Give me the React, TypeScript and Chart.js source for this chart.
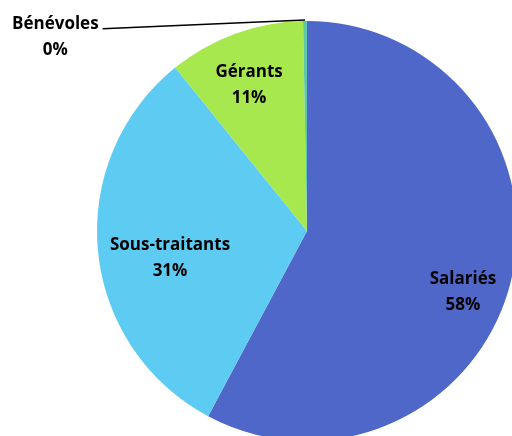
import React, { useEffect, useRef } from "react";
import { Chart, registerables } from "chart.js";

Chart.register(...registerables);

const categories = ["Salariés", "Sous-traitants", "Gérants", "Bénévoles"];
const values = [57.8, 31.4, 10.5, 0.3];
const percentLabels = ["58%", "31%", "11%", "0%"];
const colors = ["#4F67C8", "#5ECBF2", "#A8E84F", "#5CC8A8"];

// label placement: radial factor and angle shift (deg) from the slice's mid-angle
const labelPlacement = [
  { r: 0.794, da: 6.7 },
  { r: 0.663, da: -4.9 },
  { r: 0.757, da: -1.4 },
  { r: 1.52, da: -51.5, leader: true },
];

const FONT = "bold 17px 'Open Sans'";

const labelPlugin = {
  id: "sliceLabels",
  afterDraw(chart: any) {
    const ctx = chart.ctx;
    const meta = chart.getDatasetMeta(0);
    ctx.save();
    ctx.font = FONT;
    ctx.fillStyle = "#000";
    ctx.textAlign = "center";
    ctx.textBaseline = "alphabetic";
    meta.data.forEach((arc: any, i: number) => {
      const { x, y, startAngle, endAngle, outerRadius } = arc.getProps(
        ["x", "y", "startAngle", "endAngle", "outerRadius"],
        true
      );
      const p = labelPlacement[i];
      const mid = (startAngle + endAngle) / 2 + (p.da * Math.PI) / 180;
      const lx = x + Math.cos(mid) * outerRadius * p.r;
      const ly = y + Math.sin(mid) * outerRadius * p.r;
      ctx.fillText(categories[i], lx, ly - 6);
      ctx.fillText(percentLabels[i], lx, ly + 20);
      if (p.leader) {
        const w = ctx.measureText(categories[i]).width;
        const ax = x + Math.cos((startAngle + endAngle) / 2) * outerRadius;
        const ay = y + Math.sin((startAngle + endAngle) / 2) * outerRadius;
        ctx.beginPath();
        ctx.strokeStyle = "#000";
        ctx.lineWidth = 1.5;
        ctx.moveTo(lx + w / 2 + 4, ly - 6);
        ctx.lineTo(ax, ay - 1);
        ctx.stroke();
      }
    });
    ctx.restore();
  },
};

export default function App() {
  const ref = useRef<HTMLCanvasElement>(null);
  useEffect(() => {
    if (!ref.current) return;
    const chart = new Chart(ref.current, {
      type: "pie",
      data: {
        labels: categories,
        datasets: [
          {
            data: values,
            backgroundColor: colors,
            borderWidth: 0,
          },
        ],
      },
      options: {
        responsive: false,
        animation: false,
        layout: { padding: { left: 97, right: 97, top: 21, bottom: 21 } },
        plugins: {
          legend: { display: false },
          tooltip: { enabled: false },
        },
      },
      plugins: [labelPlugin],
    });
    return () => chart.destroy();
  }, []);
  return (
    <div
      style={{
        position: "fixed",
        left: 0,
        top: 0,
        width: 512,
        height: 436,
        overflow: "hidden",
        background: "#fff",
      }}
    >
      <canvas ref={ref} width={614} height={462} style={{ display: "block" }} />
    </div>
  );
}
